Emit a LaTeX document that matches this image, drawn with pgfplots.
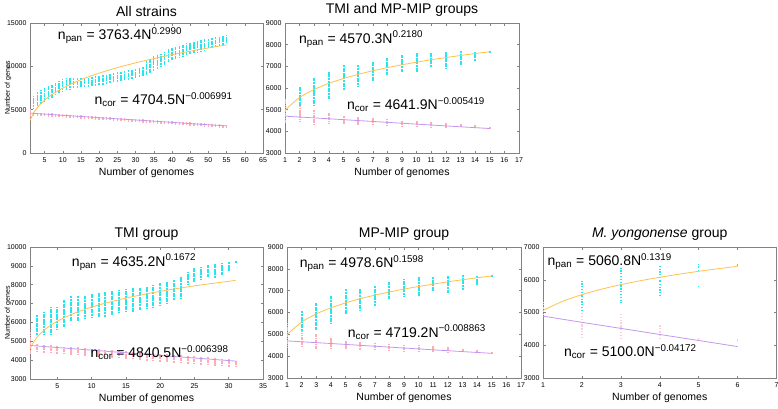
\documentclass[border=0pt]{standalone}
\usepackage{pgfplots}
\usepackage{pgfplotstable}
\pgfplotsset{compat=1.18}
\usepackage{fontspec}
\setmainfont{Liberation Sans}
\definecolor{pancol}{RGB}{40,228,236}
\definecolor{corcol}{RGB}{255,172,182}
\definecolor{fitpan}{RGB}{255,192,80}
\definecolor{fitcor}{RGB}{196,150,240}
\definecolor{axgray}{RGB}{130,130,130}

% ---------- All strains ----------
\pgfplotstableread{
N c e
2 5850 750
3 6200 800
4 6500 800
5 6700 800
6 6950 750
7 7150 750
8 7400 700
9 7600 700
10 7800 700
11 7950 650
12 8025 625
13 8075 575
14 8075 525
15 8100 500
16 8150 500
17 8175 525
18 8225 525
19 8300 550
20 8375 575
21 8425 575
22 8525 575
23 8600 550
24 8675 575
25 8775 575
26 8825 575
27 8925 575
28 9000 550
29 9075 575
30 9150 550
31 9300 550
32 9400 550
33 9775 825
34 10050 850
35 10350 850
36 10525 825
37 10675 775
38 10950 750
39 11200 750
40 11425 725
41 11550 700
42 11700 700
43 11825 675
44 11975 675
45 12100 650
46 12200 650
47 12300 650
48 12375 625
49 12475 625
50 12600 600
51 12700 600
52 12800 600
53 12900 550
54 13025 525
55 13175 475
}\panA
\pgfplotstableread{
N c e
1 4625 475
2 4505 185
3 4485 185
4 4455 185
5 4425 185
6 4395 185
7 4375 185
8 4345 185
9 4315 185
10 4285 185
11 4265 185
12 4235 185
13 4205 185
14 4185 185
15 4155 185
16 4125 185
17 4095 185
18 4075 185
19 4045 185
20 4015 185
21 3985 185
22 3965 185
23 3935 185
24 3905 185
25 3885 185
26 3855 185
27 3825 185
28 3795 185
29 3775 185
30 3745 185
31 3715 185
32 3685 185
33 3665 185
34 3635 185
35 3605 185
36 3585 185
37 3555 185
38 3525 185
39 3495 185
40 3475 185
41 3445 185
42 3415 185
43 3385 185
44 3365 185
45 3335 185
46 3305 185
47 3275 185
48 3255 185
49 3225 185
50 3195 185
51 3175 185
52 3145 185
53 3115 185
54 3085 185
55 3065 185
}\corA

% ---------- TMI group ----------
\pgfplotstableread{
N c e
2 5860 530
3 5950 620
4 6080 750
5 6215 615
6 6480 710
7 6720 680
8 6720 680
9 6810 590
10 6860 640
11 6920 620
12 6965 665
13 7035 645
14 7100 620
15 7160 590
16 7185 615
17 7250 590
18 7325 575
19 7365 615
20 7495 575
21 7585 575
22 7720 530
23 7850 570
24 8335 355
25 8515 355
26 8600 350
27 8730 310
28 8735 395
29 8820 310
30 8955 265
31 9200 50
}\panT
\pgfplotstableread{
N c e
1 4900 600
2 4625 225
3 4600 225
4 4575 225
5 4545 225
6 4515 225
7 4485 225
8 4465 225
9 4435 225
10 4405 225
11 4375 225
12 4355 225
13 4325 225
14 4295 225
15 4265 225
16 4245 225
17 4215 225
18 4185 225
19 4155 225
20 4125 225
21 4105 225
22 4075 225
23 4045 225
24 4015 225
25 3995 225
26 3965 225
27 3935 225
28 3905 225
29 3875 225
30 3855 225
31 3825 125
}\corT

% ---------- MP-MIP group (and TMI + MP-MIP) ----------
\pgfplotstableread{
N c e
2 5600 450
3 5825 625
4 6125 625
5 6490 590
6 6590 490
7 6765 465
8 7000 400
9 7135 385
10 7185 435
11 7300 350
12 7290 390
13 7375 325
14 7465 215
15 7670 30
}\panM
\pgfplotstableread{
N c e
1 4950 550
2 4800 350
3 4675 325
4 4600 250
5 4515 185
6 4475 175
7 4440 160
8 4400 150
9 4365 135
10 4350 150
11 4325 125
12 4290 110
13 4260 90
14 4230 70
15 4150 30
}\corM

% ---------- M. yongonense group ----------
\pgfplotstableread{
N c e
2 5510 510
3 5820 540
4 5960 460
5 6390 90
5 5800 20
6 6450 50
}\panY
\pgfplotstableread{
N c e
1 5140 190
2 4600 400
3 4575 375
4 4400 250
5 4200 50
6 4150 50
}\corY

\pgfplotsset{
  pg/.style={
    scale only axis,
    axis line style={axgray, line width=0.6pt},
    every tick/.style={axgray, line width=0.5pt},
    tick align=inside,
    major tick length=2.5pt,
    tick label style={font=\fontsize{7}{8}\selectfont},
    /pgf/number format/assume math mode=true,
    /pgf/number format/set thousands separator={},
    scaled ticks=false,
    xlabel={Number of genomes},
    xlabel style={font=\fontsize{10.5}{12}\selectfont, yshift=1pt},
    title style={font=\fontsize{14}{16}\selectfont, yshift=-3pt},
    ylabel style={font=\fontsize{7}{8}\selectfont, at={(rel axis cs:0,0.5)}, anchor=center, rotate=0, yshift=22pt},
    xticklabel style={yshift=-1pt},
    anchor=south west,
  },
  bars/.style n args={3}{draw=none, mark=none, forget plot,
    error bars/.cd, y dir=both, y explicit, error mark=none,
    error bar style={draw=#1, line width=#2, dash pattern=#3}},
  fitp/.style={fitpan, line width=0.8pt, smooth, mark=none},
  fitc/.style={fitcor, line width=0.8pt, mark=none},
}
\newcommand{\eq}[3]{\fontsize{14}{16}\selectfont n\textsubscript{#1} = #2N\textsuperscript{#3}}

\begin{document}
\begin{tikzpicture}
\useasboundingbox (0,0) rectangle (778pt,408pt);

% ===== Panel 1: All strains =====
\begin{axis}[pg, at={(30pt,255pt)}, width=233pt, height=130pt,
  title={All strains}, ylabel={Number of genes},
  xmin=1, xmax=65, ymin=0, ymax=15000,
  xtick={5,10,...,65}, ytick={0,5000,10000,15000}]
\addplot[bars={pancol}{1.4pt}{on 2pt off 0.6pt}] table[x=N, y=c, y error=e] {\panA};
\addplot[bars={corcol}{1.4pt}{on 1.6pt off 0.7pt}] table[x=N, y=c, y error=e] {\corA};
\addplot[fitp] coordinates {(1,3763) (2,4630) (3,5227) (4,5696) (5,6089) (7,6734) (10,7492) (15,8457) (20,9217) (25,9853) (30,10405) (35,10895) (40,11340) (45,11746) (50,12122) (55,12472)};
\addplot[fitc] coordinates {(1,4600) (10,4350) (20,4080) (30,3810) (40,3540) (50,3260) (55,3130)};
\node[anchor=west] at (rel axis cs:0.105,0.905) {\eq{pan}{3763.4}{0.2990}};
\node[anchor=west] at (rel axis cs:0.262,0.41) {\eq{cor}{4704.5}{−0.006991}};
\end{axis}

% ===== Panel 2: TMI and MP-MIP groups =====
\begin{axis}[pg, at={(285pt,255pt)}, width=234pt, height=130pt,
  title={TMI and MP-MIP groups},
  xmin=1, xmax=17, ymin=3000, ymax=9000,
  xtick={1,...,17}, ytick={3000,4000,...,9000}]
\addplot[bars={pancol}{2pt}{on 2pt off 0.6pt}] table[x=N, y=c, y error=e] {\panM};
\addplot[bars={corcol}{2pt}{on 1.6pt off 0.7pt}] table[x=N, y=c, y error=e] {\corM};
\addplot[fitp] coordinates {(1,4979) (2,5562) (3,5934) (4,6213) (5,6439) (6,6629) (7,6795) (8,6941) (9,7073) (10,7193) (11,7303) (12,7406) (13,7501) (14,7590) (15,7674)};
\addplot[fitc] coordinates {(1,4700) (4,4580) (8,4415) (12,4250) (15,4130)};
\node[anchor=west] at (rel axis cs:0.045,0.875) {\eq{pan}{4570.3}{0.2180}};
\node[anchor=west] at (rel axis cs:0.25,0.37) {\eq{cor}{4641.9}{−0.005419}};
\end{axis}

% ===== Panel 3: TMI group =====
\begin{axis}[pg, at={(30pt,29pt)}, width=233pt, height=132pt,
  title={TMI group}, ylabel={Number of genes},
  xmin=1, xmax=35, ymin=3000, ymax=10000,
  xtick={5,10,...,35}, ytick={3000,4000,...,10000}]
\addplot[bars={pancol}{2pt}{on 2pt off 0.6pt}] table[x=N, y=c, y error=e] {\panT};
\addplot[bars={corcol}{2pt}{on 1.6pt off 0.7pt}] table[x=N, y=c, y error=e] {\corT};
\addplot[fitp] coordinates {(1,4635) (2,5205) (3,5570) (4,5844) (5,6066) (6,6254) (8,6562) (10,6812) (12,7023) (15,7290) (18,7515) (20,7649) (25,7940) (31,8230)};
\addplot[fitc] coordinates {(1,4780) (10,4530) (20,4250) (31,3950)};
\node[anchor=west] at (rel axis cs:0.165,0.885) {\eq{pan}{4635.2}{0.1672}};
\node[anchor=west] at (rel axis cs:0.245,0.2) {\eq{cor}{4840.5}{−0.006398}};
\end{axis}

% ===== Panel 4: MP-MIP group =====
\begin{axis}[pg, at={(287pt,30pt)}, width=234pt, height=131pt,
  title={MP-MIP group},
  xmin=1, xmax=17, ymin=3000, ymax=9000,
  xtick={1,...,17}, ytick={3000,4000,...,9000}]
\addplot[bars={pancol}{2pt}{on 2pt off 0.6pt}] table[x=N, y=c, y error=e] {\panM};
\addplot[bars={corcol}{2pt}{on 1.6pt off 0.7pt}] table[x=N, y=c, y error=e] {\corM};
\addplot[fitp] coordinates {(1,4979) (2,5562) (3,5934) (4,6213) (5,6439) (6,6629) (7,6795) (8,6941) (9,7073) (10,7193) (11,7303) (12,7406) (13,7501) (14,7590) (15,7674)};
\addplot[fitc] coordinates {(1,4700) (4,4580) (8,4415) (12,4250) (15,4130)};
\node[anchor=west] at (rel axis cs:0.04,0.875) {\eq{pan}{4978.6}{0.1598}};
\node[anchor=west] at (rel axis cs:0.245,0.35) {\eq{cor}{4719.2}{−0.008863}};
\end{axis}

% ===== Panel 5: M. yongonense group =====
\begin{axis}[pg, at={(543pt,30pt)}, width=233.5pt, height=131pt,
  title={\textit{M. yongonense} group},
  xmin=1, xmax=7, ymin=3000, ymax=7000,
  xtick={1,...,7}, ytick={3000,4000,...,7000}]
\addplot[bars={pancol}{1.6pt}{on 1.2pt off 1.6pt}] table[x=N, y=c, y error=e] {\panY};
\addplot[bars={corcol!60}{1.6pt}{on 1.2pt off 1.6pt}] table[x=N, y=c, y error=e] {\corY};
\addplot[fitp] coordinates {(1,5061) (1.5,5339) (2,5545) (2.5,5711) (3,5850) (3.5,5970) (4,6076) (4.5,6171) (5,6258) (5.5,6337) (6,6410)};
\addplot[fitc] coordinates {(1,4890) (2,4700) (3,4515) (4,4330) (5,4145) (6,3960)};
\node[anchor=west] at (rel axis cs:0.005,0.89) {\eq{pan}{5060.8}{0.1319}};
\node[anchor=west] at (rel axis cs:0.075,0.2) {\eq{cor}{5100.0}{−0.04172}};
\end{axis}
\end{tikzpicture}
\end{document}
